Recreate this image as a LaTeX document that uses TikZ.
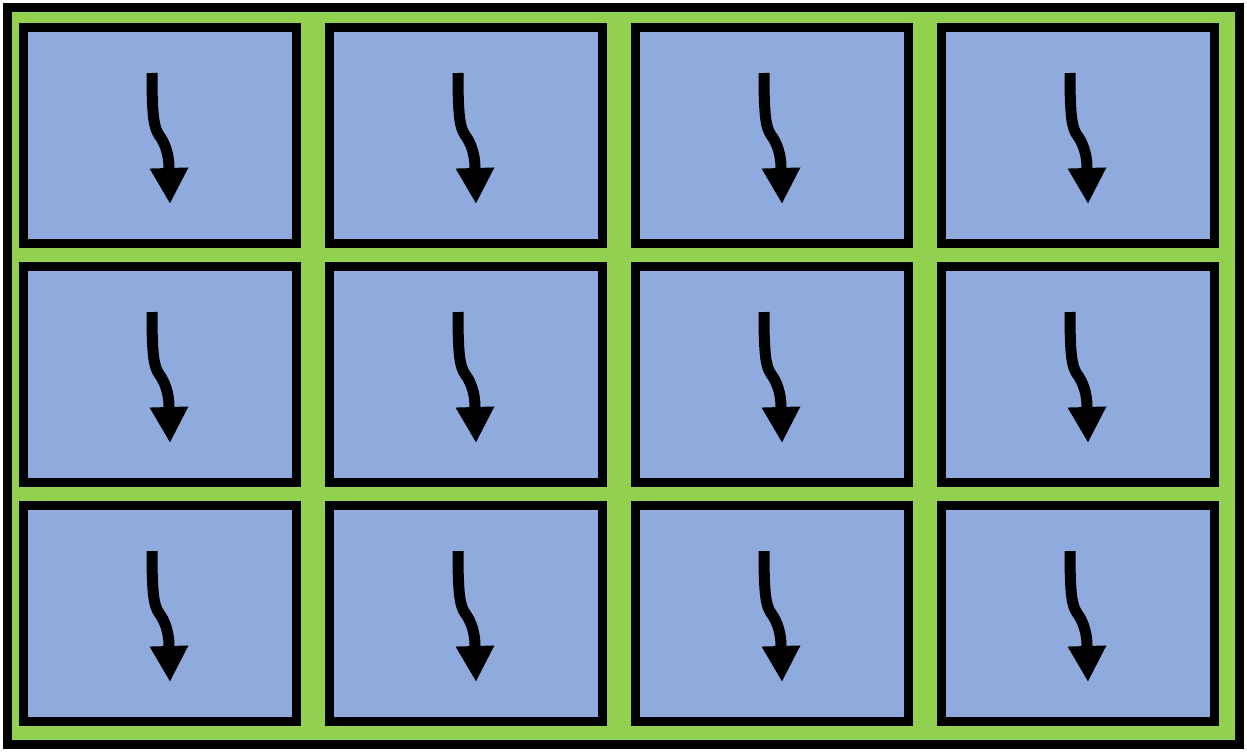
\documentclass[tikz,border=0pt]{standalone}
\usetikzlibrary{arrows.meta}

\definecolor{framegreen}{HTML}{92D050}
\definecolor{cellblue}{HTML}{8FAADC}

\tikzset{
  cellbox/.style = {draw = black, line width = 9pt, fill = cellblue, inner sep = 0pt, outer sep = 0pt,
                    minimum width = 273pt, minimum height = 216pt},
  flowarrow/.style = {line width = 11pt, -{Triangle[width = 36pt, length = 36pt]}}
}

\begin{document}
\begin{tikzpicture}[x = 1pt, y = -1pt]
\useasboundingbox (0,0) rectangle (1247,752);
\draw[line width = 9pt, fill = framegreen] (7.5,7.5) rectangle (1239,744);

\foreach \col in {0,1,2,3}{
   \foreach \row in {0,1,2}{
      \node[cellbox] (cell-\col-\row) at (160 + 306*\col, 135.5 + 239*\row) {};
      \draw[flowarrow, shift = {(cell-\col-\row.north west)}]
         (128.5,45.5) .. controls (128.5,90) and (130.5,100) .. (135.5,107.5)
         .. controls (141.5,115.5) and (145.5,127) .. (145.5,140.5) -- (146.5,176.5);
      }
   }
\end{tikzpicture}
\end{document}
